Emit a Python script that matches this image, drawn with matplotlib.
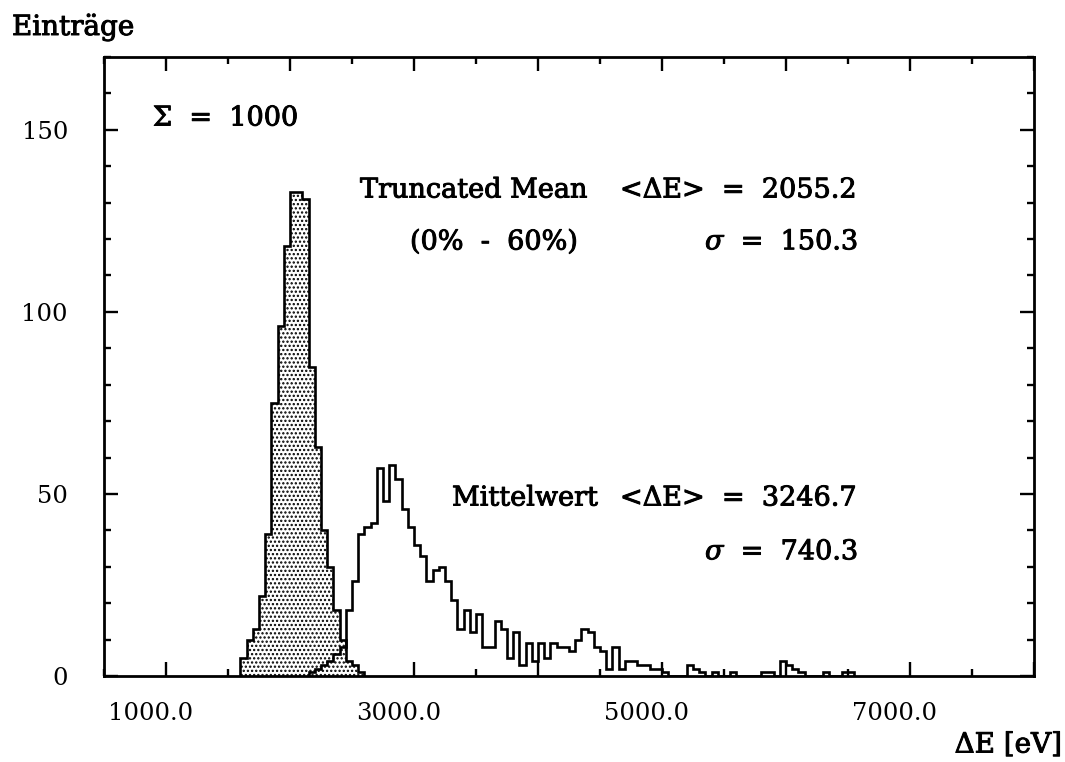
"""
dE/dx-Verteilung: Truncated Mean (0% - 60%) gegen einfachen Mittelwert
für 1000 simulierte Spuren, Histogramme mit 50 eV Bins.
"""

import matplotlib

matplotlib.use("Agg")
import matplotlib.patheffects as pe
import matplotlib.pyplot as plt
import numpy as np
from matplotlib.ticker import MultipleLocator
from matplotlib.transforms import ScaledTranslation

BIN_WIDTH = 50.0

# Truncated Mean, Bins ab 1600 eV
trunc_start = 1600.0
trunc_counts = [5, 10, 13, 22, 39, 75, 96, 118, 133, 133, 131, 85, 63, 40, 30, 18, 10, 4, 3, 1]

# Mittelwert, Bins ab 2150 eV
mittel_start = 2150.0
mittel_counts = [
    1, 2, 3, 4, 6, 8,
    18, 26, 39, 41, 42, 57, 48, 58, 54, 46,
    41, 36, 33, 26, 29, 30, 26, 21, 13, 18,
    12, 17, 8, 8, 15, 13, 5, 12, 3, 9,
    4, 9, 5, 9, 8, 8, 7, 10, 13, 12,
    8, 7, 2, 8, 2, 4, 4, 3, 3, 2,
    2, 1, 0, 0, 0, 3, 2, 1, 0, 1,
    0, 0, 1, 0, 0, 0, 0, 1, 1, 0,
    4, 3, 2, 1, 0, 0, 0, 1, 0, 0,
    1, 1,
]

x_major = [1000, 2000, 3000, 4000, 5000, 6000, 7000, 8000]
x_labels = {1000: "1000.0", 3000: "3000.0", 5000: "5000.0", 7000: "7000.0"}
y_labels = [0, 50, 100, 150]

trunc_mean, trunc_sigma = 2055.2, 150.3
mittel_mean, mittel_sigma = 3246.7, 740.3
n_entries = 1000


def edges(start, counts):
    return start + BIN_WIDTH * np.arange(len(counts) + 1)


def main() -> None:
    plt.rcParams["font.family"] = "DejaVu Serif"
    plt.rcParams["mathtext.fontset"] = "dejavuserif"
    plt.rcParams["hatch.linewidth"] = 1.1

    # etwas kräftigere Schrift, wie beim Plotter-Ausdruck
    heavy = [pe.withStroke(linewidth=0.7, foreground="black")]

    W, H = 1065, 762
    fig = plt.figure(figsize=(W / 100, H / 100), dpi=100)
    # Achsenrahmen in Pixeln: links 104, rechts 1034, oben 57, unten 676
    ax = fig.add_axes([104 / W, 1 - 676 / H, (1034 - 104) / W, (676 - 57) / H])
    ax.set_xlim(500, 8000)
    ax.set_ylim(0, 170)

    # Mittelwert-Histogramm (offen)
    ax.stairs(mittel_counts, edges(mittel_start, mittel_counts),
              color="black", linewidth=1.9, zorder=3)

    # Truncated Mean, gepunktet gefüllt
    te = edges(trunc_start, trunc_counts)
    ax.stairs(trunc_counts, te, fill=True, facecolor="white",
              edgecolor="black", hatch="....", linewidth=0, zorder=2)
    ax.stairs(trunc_counts, te, color="black", linewidth=1.9, zorder=4)

    # Achsen und Ticks auf allen vier Seiten, nach innen
    for s in ax.spines.values():
        s.set_linewidth(2.0)
    ax.set_xticks(x_major)
    ax.set_xticklabels([x_labels.get(v, "") for v in x_major])
    ax.set_yticks(y_labels)
    ax.set_yticklabels([str(v) for v in y_labels])
    ax.xaxis.set_minor_locator(MultipleLocator(500))
    ax.yaxis.set_minor_locator(MultipleLocator(10))
    ax.tick_params(which="both", direction="in", top=True, right=True,
                   width=1.7, labelsize=17.5)
    ax.tick_params(which="major", length=10)
    ax.tick_params(which="minor", length=5)
    ax.tick_params(axis="x", pad=19)
    ax.tick_params(axis="y", pad=26)

    # Beschriftungen der x-Achse leicht nach links versetzt
    shift = ScaledTranslation(-15 / 100, 0, fig.dpi_scale_trans)
    for lab in ax.get_xticklabels():
        lab.set_transform(lab.get_transform() + shift)

    def px(x, y):
        return x / W, 1 - y / H

    def label(x, y, s, size=19.5, ha="left"):
        fig.text(*px(x, y), s, fontsize=size, va="center", ha=ha, path_effects=heavy)

    label(12, 27, "Einträge", size=20)
    label(1062, 745, "ΔE [eV]", size=20, ha="right")
    label(153, 118, f"Σ  =  {n_entries}")

    label(360, 190, "Truncated Mean")
    label(620, 190, f"<ΔE>  =  {trunc_mean:.1f}")
    label(410, 242, "(0%  -  60%)")
    label(705, 242, rf"$\sigma$  =  {trunc_sigma:.1f}")

    label(452, 498, "Mittelwert")
    label(620, 498, f"<ΔE>  =  {mittel_mean:.1f}")
    label(705, 552, rf"$\sigma$  =  {mittel_sigma:.1f}")

    fig.savefig("out.png", dpi=100)


if __name__ == "__main__":
    main()
